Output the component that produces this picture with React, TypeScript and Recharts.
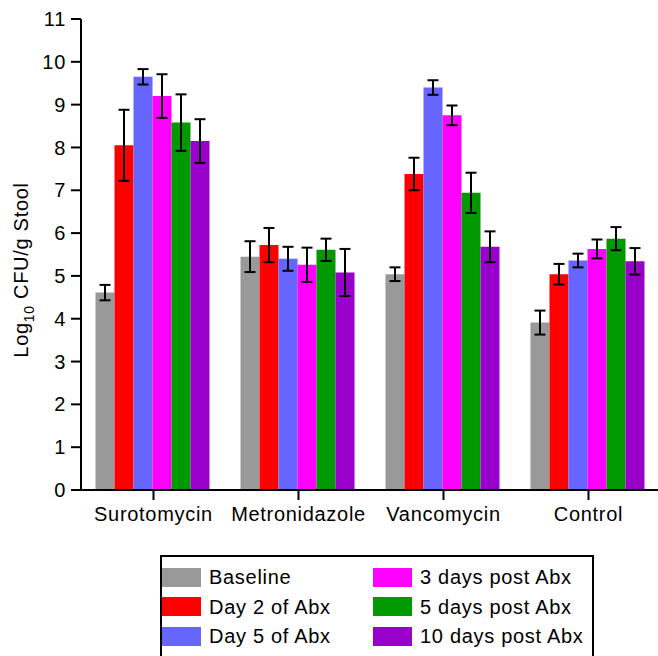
import React from 'react';
import { BarChart, Bar, XAxis, YAxis, ErrorBar, Legend, Label } from 'recharts';

const categories = ['Surotomycin', 'Metronidazole', 'Vancomycin', 'Control'];

const seriesNames = [
  'Baseline',
  'Day 2 of Abx',
  'Day 5 of Abx',
  '3 days post Abx',
  '5 days post Abx',
  '10 days post Abx'
];

const seriesColors = [
  '#999999', // gray
  '#FF0000', // red
  '#6666FF', // blue
  '#FF00FF', // magenta
  '#009900', // green
  '#9900CC'  // purple
];

// mean log10 CFU/g per category
const baseline = [4.61, 5.45, 5.04, 3.91];
const day2 = [8.05, 5.72, 7.38, 5.04];
const day5 = [9.65, 5.40, 9.40, 5.36];
const post3 = [9.20, 5.26, 8.75, 5.63];
const post5 = [8.58, 5.61, 6.94, 5.87];
const post10 = [8.15, 5.08, 5.68, 5.34];

// error bar half-lengths
const baselineErr = [0.18, 0.36, 0.16, 0.28];
const day2Err = [0.83, 0.40, 0.38, 0.24];
const day5Err = [0.18, 0.28, 0.17, 0.16];
const post3Err = [0.51, 0.40, 0.23, 0.22];
const post5Err = [0.66, 0.26, 0.47, 0.27];
const post10Err = [0.51, 0.55, 0.36, 0.31];

const yTicks = [0, 1, 2, 3, 4, 5, 6, 7, 8, 9, 10, 11];

const seriesValues = [baseline, day2, day5, post3, post5, post10];
const seriesErrors = [baselineErr, day2Err, day5Err, post3Err, post5Err, post10Err];

const data = categories.map((name, i) => {
  const row: any = { name };
  seriesNames.forEach((_, s) => {
    row[`v${s}`] = seriesValues[s][i];
    row[`e${s}`] = seriesErrors[s][i];
  });
  return row;
});

const FONT = '"Liberation Sans", Arial, sans-serif';

const YLabel = () => {
  const x = 28;
  const y = 270;
  return (
    <text
      x={x}
      y={y}
      transform={`rotate(-90, ${x}, ${y})`}
      textAnchor="middle"
      fontSize={20}
      fill="#000"
      fontFamily={FONT}
    >
      <tspan>Log</tspan>
      <tspan fontSize={14} dy={6}>10</tspan>
      <tspan dy={-6}> CFU/g Stool</tspan>
    </text>
  );
};

// legend drawn in series order (two columns of three)
const LegendBox = () => (
  <div
    style={{
      width: 434,
      height: 104,
      border: '2px solid #000',
      boxSizing: 'border-box',
      position: 'relative',
      background: '#fff'
    }}
  >
    {seriesNames.map((name, i) => {
      const col = Math.floor(i / 3);
      const row = i % 3;
      const centerY = 20 + row * 29.5;
      return (
        <React.Fragment key={`leg-${i}`}>
          <div
            style={{
              position: 'absolute',
              left: col === 0 ? 0 : 211,
              top: centerY - 9.5,
              width: 39,
              height: 19,
              background: seriesColors[i]
            }}
          />
          <div
            style={{
              position: 'absolute',
              left: col === 0 ? 47 : 258,
              top: centerY - 12,
              height: 24,
              lineHeight: '24px',
              fontSize: 20,
              color: '#000',
              whiteSpace: 'nowrap'
            }}
          >
            {name}
          </div>
        </React.Fragment>
      );
    })}
  </div>
);

const App: React.FC = () => {
  return (
    <div
      style={{
        position: 'absolute',
        left: 0,
        top: 0,
        width: 658,
        height: 656,
        overflow: 'hidden',
        background: '#fff',
        fontFamily: FONT,
        letterSpacing: '0.7px'
      }}
    >
      <BarChart
        width={661}
        height={656}
        data={data}
        margin={{ top: 19, right: 0, bottom: 136, left: 20 }}
        barCategoryGap="10%"
        barGap={0}
      >
        <XAxis
          dataKey="name"
          height={30}
          axisLine={{ stroke: '#000', strokeWidth: 2 }}
          tickLine={{ stroke: '#000', strokeWidth: 2 }}
          tickSize={10}
          tickMargin={7}
          tick={{ fill: '#000', fontSize: 20 }}
          interval={0}
        />
        <YAxis
          width={61}
          domain={[0, 11]}
          ticks={yTicks}
          interval={0}
          axisLine={{ stroke: '#000', strokeWidth: 2 }}
          tickLine={{ stroke: '#000', strokeWidth: 2 }}
          tickSize={10}
          tickMargin={5}
          tick={{ fill: '#000', fontSize: 20 }}
        >
          <Label content={<YLabel />} />
        </YAxis>
        <Legend
          layout="horizontal"
          verticalAlign="middle"
          align="center"
          content={<LegendBox />}
          wrapperStyle={{ left: 160, top: 555, width: 434 }}
        />
        {seriesNames.map((name, s) => (
          <Bar
            key={name}
            dataKey={`v${s}`}
            name={name}
            fill={seriesColors[s]}
            isAnimationActive={false}
          >
            <ErrorBar
              dataKey={`e${s}`}
              direction="y"
              width={5.5}
              stroke="#000"
              strokeWidth={2}
              isAnimationActive={false}
            />
          </Bar>
        ))}
      </BarChart>
    </div>
  );
};

export default App;
